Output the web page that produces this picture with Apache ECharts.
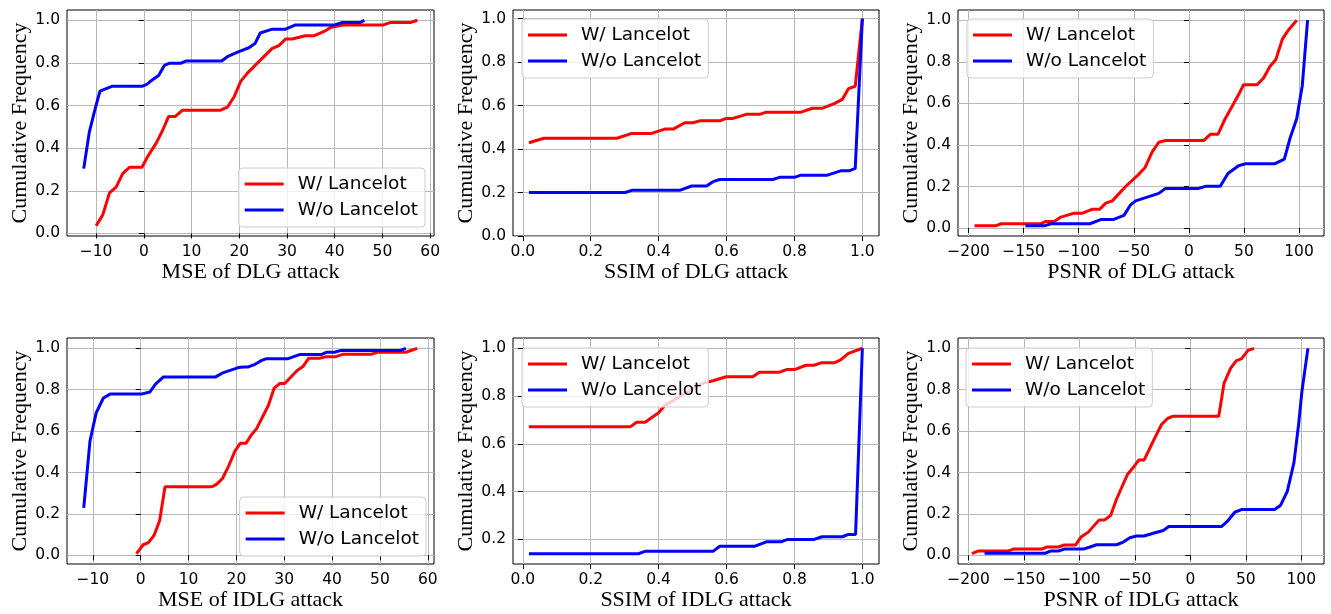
<!DOCTYPE html>
<html><head><meta charset="utf-8">
<script src="https://cdn.jsdelivr.net/npm/echarts@6/dist/echarts.min.js"></script>
<style>html,body{margin:0;padding:0;background:#fff}#c{width:1331px;height:614px}</style>
</head><body><div id="c"></div>
<script>
const seriesNames = ['W/ Lancelot', 'W/o Lancelot'];
const xTitles = ['MSE of DLG attack', 'SSIM of DLG attack', 'PSNR of DLG attack', 'MSE of IDLG attack', 'SSIM of IDLG attack', 'PSNR of IDLG attack'];
const yTitle = 'Cumulative Frequency';
const mseTicks = [-10, 0, 10, 20, 30, 40, 50, 60];
const ssimTicks = [0, 0.2, 0.4, 0.6, 0.8, 1.0];
const psnrTicks = [-200, -150, -100, -50, 0, 50, 100];
const freqTicks = [0, 0.2, 0.4, 0.6, 0.8, 1.0];
const freqTicksHigh = [0.2, 0.4, 0.6, 0.8, 1.0];

const mseDlgWith = [[-10,0.036],[-8.6,0.087],[-7.2,0.19],[-5.8,0.217],[-4.4,0.282],[-3.0,0.31],[-0.4,0.31],[0.8,0.361],[2.5,0.42],[3.8,0.477],[5.2,0.549],[6.6,0.549],[8.1,0.578],[16.1,0.578],[17.5,0.592],[18.9,0.64],[20.3,0.713],[21.7,0.752],[24.1,0.806],[26.9,0.868],[28.3,0.881],[29.7,0.912],[31.1,0.912],[33.8,0.927],[35.6,0.927],[38.0,0.95],[39.1,0.966],[40,0.97],[41.8,0.978],[50.2,0.978],[51.6,0.989],[55.8,0.989],[57.3,1.0]];
const mseDlgWithout = [[-12.6,0.304],[-11.4,0.478],[-10.1,0.594],[-9.2,0.667],[-6.7,0.69],[-0.4,0.69],[0.6,0.699],[1.8,0.721],[3.1,0.741],[4.3,0.788],[5.3,0.798],[7.7,0.798],[8.9,0.809],[16.3,0.809],[17.5,0.829],[19.9,0.853],[22.0,0.871],[23.3,0.891],[24.4,0.94],[26.9,0.958],[29.7,0.958],[31.8,0.978],[40.0,0.978],[41.5,0.989],[45.3,0.989],[46.2,1.0]];
const ssimDlgWith = [[0.018,0.429],[0.062,0.45],[0.277,0.45],[0.321,0.472],[0.379,0.472],[0.418,0.492],[0.443,0.492],[0.477,0.521],[0.501,0.521],[0.521,0.53],[0.58,0.53],[0.599,0.541],[0.619,0.541],[0.658,0.56],[0.697,0.56],[0.717,0.57],[0.819,0.57],[0.853,0.588],[0.883,0.588],[0.917,0.609],[0.941,0.629],[0.959,0.678],[0.979,0.689],[1.0,1.0]];
const ssimDlgWithout = [[0.018,0.2],[0.301,0.2],[0.321,0.21],[0.462,0.21],[0.497,0.23],[0.541,0.23],[0.56,0.25],[0.58,0.26],[0.736,0.26],[0.756,0.27],[0.8,0.27],[0.819,0.28],[0.897,0.28],[0.936,0.30],[0.961,0.30],[0.979,0.311],[1.0,1.0]];
const psnrDlgWith = [[-194.6,0.011],[-175.6,0.011],[-170.5,0.021],[-134.3,0.021],[-129.8,0.032],[-122.2,0.032],[-116.2,0.053],[-104.1,0.072],[-96.6,0.072],[-87.5,0.091],[-80.9,0.091],[-75.5,0.12],[-69.5,0.131],[-57.4,0.2],[-45.3,0.26],[-39.9,0.29],[-33.3,0.367],[-27.3,0.413],[-21.2,0.421],[13.4,0.421],[19.5,0.451],[26.4,0.451],[33.0,0.526],[45.1,0.641],[49.6,0.689],[61.7,0.689],[67.7,0.721],[73.7,0.778],[78.9,0.81],[84.9,0.909],[90.3,0.952],[97.9,1.0]];
const psnrDlgWithout = [[-148.4,0.011],[-131.3,0.011],[-125.2,0.021],[-89.9,0.021],[-80.0,0.041],[-68.9,0.041],[-58.9,0.061],[-52.9,0.112],[-48.4,0.131],[-27.3,0.167],[-21.2,0.191],[8.9,0.191],[15.0,0.201],[28.5,0.201],[35.5,0.263],[45.1,0.30],[51.1,0.309],[77.7,0.309],[86.7,0.332],[91.8,0.431],[97.9,0.526],[103.0,0.686],[107.8,1.0]];
const mseIdlgWith = [[-0.87,0.008],[0.51,0.051],[1.62,0.061],[2.79,0.096],[3.97,0.168],[5.08,0.331],[14.9,0.331],[15.9,0.344],[17.1,0.371],[18.4,0.432],[19.7,0.504],[20.8,0.541],[22.0,0.541],[23.1,0.581],[24.2,0.611],[26.7,0.725],[27.9,0.808],[29.1,0.83],[30.1,0.83],[31.5,0.864],[32.7,0.893],[33.9,0.912],[35.1,0.952],[37.4,0.952],[38.8,0.96],[40.8,0.96],[42.2,0.971],[48.1,0.971],[49.5,0.981],[55.4,0.981],[57.8,1.0]];
const mseIdlgWithout = [[-11.9,0.229],[-10.6,0.552],[-9.3,0.688],[-7.8,0.76],[-6.4,0.779],[0.1,0.779],[1.9,0.789],[3.1,0.827],[4.7,0.861],[15.6,0.861],[17.0,0.88],[20.4,0.907],[21.5,0.91],[22.5,0.91],[23.9,0.923],[25.3,0.942],[26.3,0.95],[30.8,0.95],[33.2,0.97],[37.7,0.97],[38.8,0.981],[40.5,0.981],[41.9,0.99],[54.3,0.99],[55.4,1.0]];
const ssimIdlgWith = [[0.018,0.671],[0.316,0.671],[0.335,0.69],[0.36,0.69],[0.399,0.729],[0.418,0.76],[0.443,0.781],[0.477,0.812],[0.511,0.84],[0.531,0.854],[0.56,0.864],[0.599,0.881],[0.677,0.881],[0.697,0.9],[0.756,0.9],[0.777,0.911],[0.8,0.911],[0.834,0.929],[0.858,0.929],[0.878,0.939],[0.917,0.939],[0.936,0.951],[0.959,0.979],[1.0,1.0]];
const ssimIdlgWithout = [[0.018,0.14],[0.34,0.14],[0.36,0.15],[0.56,0.15],[0.58,0.171],[0.682,0.171],[0.717,0.19],[0.761,0.19],[0.78,0.2],[0.858,0.2],[0.881,0.211],[0.941,0.211],[0.959,0.221],[0.98,0.221],[1.0,1.0]];
const psnrIdlgWith = [[-197,0.008],[-191,0.021],[-164,0.021],[-159.5,0.03],[-134,0.03],[-129.5,0.04],[-119,0.04],[-113.6,0.05],[-103.4,0.05],[-98.6,0.088],[-92,0.112],[-82.4,0.17],[-77.6,0.17],[-71.9,0.192],[-66.5,0.272],[-56.6,0.392],[-51.5,0.424],[-46.4,0.461],[-41.6,0.461],[-33.5,0.552],[-26,0.632],[-20.6,0.661],[-15.5,0.672],[25.6,0.672],[30.4,0.832],[36.4,0.904],[41.5,0.941],[46,0.949],[52,0.99],[57.4,1.0]];
const psnrIdlgWithout = [[-185.6,0.01],[-131,0.01],[-125.6,0.021],[-119,0.021],[-113.6,0.03],[-96.5,0.03],[-90.5,0.04],[-84.5,0.051],[-66.5,0.051],[-60.5,0.064],[-54.5,0.085],[-48.5,0.093],[-41.9,0.093],[-35,0.104],[-24.5,0.12],[-19.4,0.139],[28,0.139],[34,0.168],[40,0.208],[46,0.221],[76,0.221],[81.4,0.242],[87.4,0.309],[93.4,0.448],[97.6,0.632],[100.6,0.792],[106,1.0]];

const intFmt = v => String(Math.round(v)).replace('-', '\u2212');
const decFmt = v => v.toFixed(1);

const panels = [
  {left:67, top:10, w:367, h:226, xr:[-16.1,60.8], yr:[-0.012,1.048], xt:mseTicks, yt:freqTicks, xf:intFmt, d:[mseDlgWith, mseDlgWithout], lg:{right:906, bottom:387}},
  {left:513, top:10, w:366, h:226, xr:[-0.029,1.049], yr:[0,1.04], xt:ssimTicks, yt:freqTicks, xf:decFmt, d:[ssimDlgWith, ssimDlgWithout], lg:{left:522, top:19}},
  {left:958, top:10, w:366, h:226, xr:[-209.6,122.7], yr:[-0.038,1.049], xt:psnrTicks, yt:freqTicks, xf:intFmt, d:[psnrDlgWith, psnrDlgWithout], lg:{left:967, top:19}},
  {left:67, top:338, w:367, h:226, xr:[-15.4,61.3], yr:[-0.042,1.05], xt:mseTicks, yt:freqTicks, xf:intFmt, d:[mseIdlgWith, mseIdlgWithout], lg:{right:905, bottom:58}},
  {left:513, top:338, w:366, h:226, xr:[-0.029,1.049], yr:[0.097,1.043], xt:ssimTicks, yt:freqTicksHigh, xf:decFmt, d:[ssimIdlgWith, ssimIdlgWithout], lg:{left:522, top:348}},
  {left:958, top:338, w:366, h:226, xr:[-209.5,120.5], yr:[-0.042,1.05], xt:psnrTicks, yt:freqTicks, xf:intFmt, d:[psnrIdlgWith, psnrIdlgWithout], lg:{left:966, top:348}}
];
const colors = ['#ff0000', '#0000ff'];
const tickFont = {fontFamily:'DejaVu Sans', fontSize:15.5, color:'#000'};
const titleFont = {fontFamily:'Liberation Serif', fontSize:22, color:'#000'};

const option = {animation:false, backgroundColor:'#fff', grid:[], xAxis:[], yAxis:[], series:[], legend:[]};
panels.forEach((p, i) => {
  option.grid.push({left:p.left, top:p.top, width:p.w, height:p.h, show:true, borderColor:'#000', borderWidth:1, backgroundColor:'transparent', containLabel:false});
  option.xAxis.push({type:'value', gridIndex:i, min:p.xr[0], max:p.xr[1],
    name:xTitles[i], nameLocation:'middle', nameGap:24, nameTextStyle:titleFont,
    axisLine:{show:false}, axisTick:{show:true, length:5, customValues:p.xt, lineStyle:{color:'#000'}},
    axisLabel:{customValues:p.xt, formatter:p.xf, margin:8, ...tickFont},
    splitLine:{show:true, lineStyle:{color:'#b8b8b8', width:1}}});
  option.yAxis.push({type:'value', gridIndex:i, min:p.yr[0], max:p.yr[1],
    name:yTitle, nameLocation:'middle', nameGap:36, nameTextStyle:titleFont,
    axisLine:{show:false}, axisTick:{show:true, length:5, customValues:p.yt, lineStyle:{color:'#000'}},
    axisLabel:{customValues:p.yt, formatter:decFmt, margin:7, ...tickFont},
    splitLine:{show:true, lineStyle:{color:'#b8b8b8', width:1}}});
  p.d.forEach((arr, k) => {
    option.series.push({type:'line', name:seriesNames[k], xAxisIndex:i, yAxisIndex:i, data:arr,
      showSymbol:false, symbol:'none', clip:true, color:colors[k], lineStyle:{color:colors[k], width:3}, z:2+k});
  });
  option.legend.push(Object.assign({data:seriesNames, orient:'vertical', icon:'rect', itemWidth:39, itemHeight:3, itemGap:6,
    padding:[6,7,7,6], backgroundColor:'rgba(255,255,255,0.8)', borderColor:'#cccccc', borderWidth:1, borderRadius:4,
    selectedMode:false, textStyle:{fontFamily:'DejaVu Sans', fontSize:18.5, color:'#000', lineHeight:20, padding:[0,0,0,9]}, z:10}, p.lg));
});
const chart = echarts.init(document.getElementById('c'), null, {renderer:'canvas'});
chart.setOption(option);
</script></body></html>
